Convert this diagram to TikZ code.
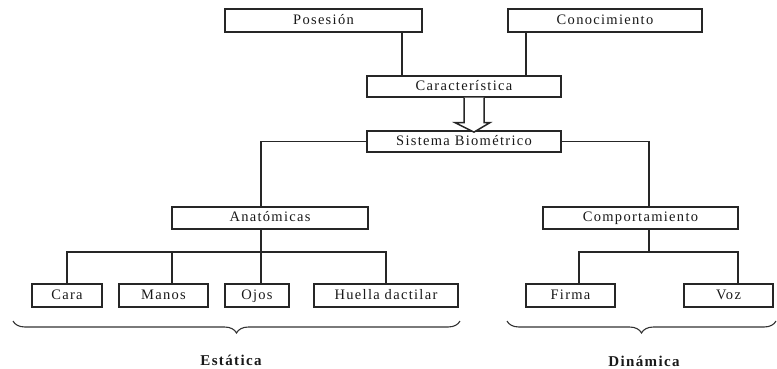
\documentclass[tikz,border=0pt]{standalone}
\usepackage{fontspec}
\setmainfont[LetterSpace=9]{Liberation Serif}
\usetikzlibrary{decorations.pathreplacing}
\begin{document}
\begin{tikzpicture}[x=1pt,y=-1pt,
  box/.style={draw=black!85, line width=1.2pt, minimum height=22pt, inner sep=0pt,
    text height=9.5pt, text depth=2.5pt,
    font=\fontsize{14.5}{16}\selectfont, text=black!90},
  conn/.style={draw=black!85, line width=1.5pt},
  brc/.style={draw=black!80, line width=1.1pt, decorate,
    decoration={brace, mirror, amplitude=12pt}},
  lbl/.style={font=\fontsize{15}{17}\selectfont\bfseries, text=black!90}]
\useasboundingbox (0,0) rectangle (777,368);
% nodes
\node[box, minimum width=197pt, minimum height=23pt] (pos) at (323.5,20.5) {Posesión};
\node[box, minimum width=194pt, minimum height=23pt] (con) at (605,20.5) {Conocimiento};
\node[box, minimum width=194pt, minimum height=21pt] (car) at (464,86.5) {Característica};
\node[box, minimum width=194pt, minimum height=21pt] (sis) at (464,141.5) {Sistema Biométrico};
\node[box, minimum width=196pt] (ana) at (270,218) {Anatómicas};
\node[box, minimum width=195pt] (com) at (640.5,218) {Comportamiento};
\node[box, minimum width=70pt, minimum height=23pt] (cara) at (67,295.5) {Cara};
\node[box, minimum width=89pt, minimum height=23pt] (manos) at (163.5,295.5) {Manos};
\node[box, minimum width=64pt, minimum height=23pt] (ojos) at (257,295.5) {Ojos};
\node[box, minimum width=144pt, minimum height=23pt] (huella) at (386,295.5) {Huella dactilar};
\node[box, minimum width=89pt, minimum height=23pt] (firma) at (570.5,295.5) {Firma};
\node[box, minimum width=89pt, minimum height=23pt] (voz) at (728.5,295.5) {Voz};
% helper coordinates
\coordinate (xp) at (402,0);
\coordinate (xc) at (526,0);
\coordinate (la) at (261,0);
\coordinate (lc) at (649,0);
\coordinate (xm) at (172,0);
\coordinate (xf) at (579,0);
\coordinate (xv) at (738,0);
\coordinate (bus) at (0,252);
% top connectors
\draw[conn] (xp |- pos.south) -- (xp |- car.north);
\draw[conn] (xc |- con.south) -- (xc |- car.north);
% hollow double arrow
\draw[draw=black!85, line width=1.5pt, fill=white] (car.south) -- ++(0,25) -- ++(-9,0) -- ++(19,9.5)
  -- ++(16,-9.5) -- ++(-6,0) -- ++(0,-25);
% branches
\draw[conn] (sis.west) -| (la |- ana.north);
\draw[conn] (sis.east) -| (lc |- com.north);
% anatomicas subtree
\draw[conn] (la |- ana.south) -- (la |- ojos.north);
\draw[conn] (cara.north) -- (cara.north |- bus) -- (huella.north |- bus) -- (huella.north);
\draw[conn] (xm |- manos.north) -- (xm |- bus);
% comportamiento subtree
\draw[conn] (lc |- com.south) -- (lc |- bus);
\draw[conn] (xf |- firma.north) -- (xf |- bus) -- (xv |- bus) -- (xv |- voz.north);
% braces
\coordinate (b1) at (13,321);
\coordinate (b2) at (460,321);
\coordinate (b3) at (507,321);
\coordinate (b4) at (776,321);
\draw[brc] (b1) -- (b2);
\draw[brc] (b3) -- (b4);
\node[lbl] (est) at (231,360) {Estática};
\node[lbl] (din) at (644,361) {Dinámica};
\end{tikzpicture}
\end{document}
